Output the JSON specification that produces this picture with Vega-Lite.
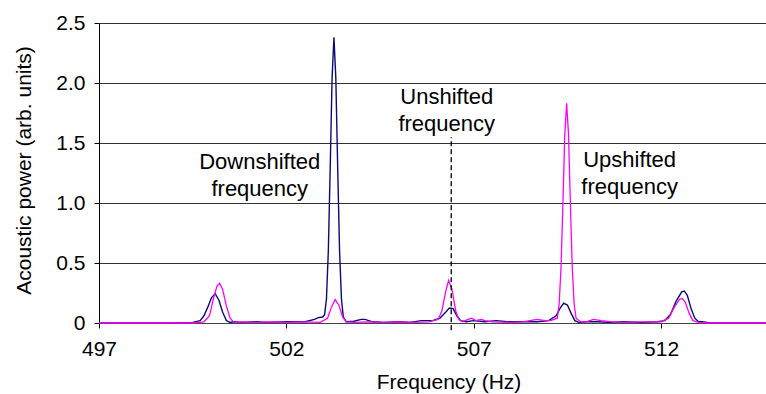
{
  "$schema": "https://vega.github.io/schema/vega-lite/v6.json",
  "width": 667,
  "height": 300,
  "autosize": {"type": "none"},
  "padding": {"left": 99, "top": 23, "right": 0, "bottom": 71},
  "background": "white",
  "config": {"view": {"stroke": null}, "font": "Liberation Sans"},
  "datasets": {
    "navy": [
      {"freq": 497.0, "power": 0}, {"freq": 499.0, "power": 0}, {"freq": 499.5, "power": 0.005},
      {"freq": 499.7, "power": 0.02}, {"freq": 499.8, "power": 0.06}, {"freq": 499.9, "power": 0.13},
      {"freq": 500.0, "power": 0.21}, {"freq": 500.1, "power": 0.245}, {"freq": 500.2, "power": 0.19},
      {"freq": 500.3, "power": 0.09}, {"freq": 500.4, "power": 0.02}, {"freq": 500.5, "power": 0.005},
      {"freq": 500.6, "power": 0.01}, {"freq": 500.8, "power": 0.005}, {"freq": 501.2, "power": 0.01},
      {"freq": 501.5, "power": 0.005}, {"freq": 502.0, "power": 0.01}, {"freq": 502.5, "power": 0.01},
      {"freq": 502.75, "power": 0.03}, {"freq": 502.85, "power": 0.045}, {"freq": 502.97, "power": 0.05},
      {"freq": 503.02, "power": 0.07}, {"freq": 503.07, "power": 0.2}, {"freq": 503.12, "power": 0.6},
      {"freq": 503.17, "power": 1.29}, {"freq": 503.22, "power": 2.04}, {"freq": 503.27, "power": 2.38},
      {"freq": 503.32, "power": 2.04}, {"freq": 503.37, "power": 1.29}, {"freq": 503.42, "power": 0.6},
      {"freq": 503.47, "power": 0.2}, {"freq": 503.52, "power": 0.05}, {"freq": 503.6, "power": 0.01},
      {"freq": 503.8, "power": 0.015}, {"freq": 504.0, "power": 0.03}, {"freq": 504.1, "power": 0.03},
      {"freq": 504.3, "power": 0.01}, {"freq": 504.6, "power": 0.005}, {"freq": 505.0, "power": 0.01},
      {"freq": 505.3, "power": 0.005}, {"freq": 505.6, "power": 0.02}, {"freq": 505.9, "power": 0.02},
      {"freq": 506.1, "power": 0.04}, {"freq": 506.25, "power": 0.09}, {"freq": 506.35, "power": 0.125},
      {"freq": 506.45, "power": 0.12}, {"freq": 506.55, "power": 0.06}, {"freq": 506.65, "power": 0.02},
      {"freq": 506.8, "power": 0.01}, {"freq": 507.0, "power": 0.02}, {"freq": 507.3, "power": 0.01},
      {"freq": 507.6, "power": 0.02}, {"freq": 507.9, "power": 0.01}, {"freq": 508.3, "power": 0.01},
      {"freq": 508.7, "power": 0.01}, {"freq": 509.0, "power": 0.02}, {"freq": 509.2, "power": 0.06},
      {"freq": 509.3, "power": 0.12}, {"freq": 509.4, "power": 0.165}, {"freq": 509.5, "power": 0.15},
      {"freq": 509.6, "power": 0.08}, {"freq": 509.7, "power": 0.02}, {"freq": 509.8, "power": 0.005},
      {"freq": 510.0, "power": 0.01}, {"freq": 510.3, "power": 0.01}, {"freq": 510.6, "power": 0.005},
      {"freq": 511.0, "power": 0.01}, {"freq": 511.5, "power": 0.005}, {"freq": 511.9, "power": 0.01},
      {"freq": 512.1, "power": 0.02}, {"freq": 512.25, "power": 0.07}, {"freq": 512.4, "power": 0.18},
      {"freq": 512.55, "power": 0.26}, {"freq": 512.62, "power": 0.267}, {"freq": 512.7, "power": 0.23},
      {"freq": 512.8, "power": 0.12}, {"freq": 512.9, "power": 0.04}, {"freq": 513.0, "power": 0.01},
      {"freq": 513.1, "power": 0.01}, {"freq": 513.3, "power": 0}, {"freq": 514.8, "power": 0}
    ],
    "magenta": [
      {"freq": 497.0, "power": 0}, {"freq": 499.5, "power": 0}, {"freq": 499.8, "power": 0.01},
      {"freq": 499.95, "power": 0.06}, {"freq": 500.05, "power": 0.2}, {"freq": 500.15, "power": 0.31},
      {"freq": 500.22, "power": 0.33}, {"freq": 500.3, "power": 0.28}, {"freq": 500.4, "power": 0.14},
      {"freq": 500.5, "power": 0.04}, {"freq": 500.6, "power": 0.005}, {"freq": 500.8, "power": 0.01},
      {"freq": 501.2, "power": 0.005}, {"freq": 501.6, "power": 0.01}, {"freq": 502.0, "power": 0.005},
      {"freq": 502.5, "power": 0.01}, {"freq": 502.9, "power": 0.005}, {"freq": 503.1, "power": 0.04},
      {"freq": 503.2, "power": 0.13}, {"freq": 503.3, "power": 0.195}, {"freq": 503.4, "power": 0.15},
      {"freq": 503.5, "power": 0.05}, {"freq": 503.6, "power": 0.01}, {"freq": 503.8, "power": 0.005},
      {"freq": 504.2, "power": 0.01}, {"freq": 504.6, "power": 0.005}, {"freq": 505.0, "power": 0.01},
      {"freq": 505.4, "power": 0.005}, {"freq": 505.8, "power": 0.01}, {"freq": 506.05, "power": 0.03},
      {"freq": 506.15, "power": 0.1}, {"freq": 506.25, "power": 0.26}, {"freq": 506.33, "power": 0.355},
      {"freq": 506.42, "power": 0.28}, {"freq": 506.52, "power": 0.1}, {"freq": 506.6, "power": 0.03},
      {"freq": 506.7, "power": 0.01}, {"freq": 506.85, "power": 0.03}, {"freq": 506.95, "power": 0.04},
      {"freq": 507.05, "power": 0.02}, {"freq": 507.2, "power": 0.03}, {"freq": 507.3, "power": 0.02},
      {"freq": 507.5, "power": 0.01}, {"freq": 508.0, "power": 0.005}, {"freq": 508.3, "power": 0.01},
      {"freq": 508.7, "power": 0.03}, {"freq": 508.9, "power": 0.02}, {"freq": 509.05, "power": 0.02},
      {"freq": 509.23, "power": 0.04}, {"freq": 509.28, "power": 0.16}, {"freq": 509.33, "power": 0.46},
      {"freq": 509.38, "power": 0.99}, {"freq": 509.43, "power": 1.57}, {"freq": 509.48, "power": 1.83},
      {"freq": 509.53, "power": 1.57}, {"freq": 509.58, "power": 0.99}, {"freq": 509.63, "power": 0.46},
      {"freq": 509.68, "power": 0.16}, {"freq": 509.73, "power": 0.04}, {"freq": 509.85, "power": 0.01},
      {"freq": 510.0, "power": 0.01}, {"freq": 510.2, "power": 0.03}, {"freq": 510.4, "power": 0.02},
      {"freq": 510.7, "power": 0.01}, {"freq": 511.0, "power": 0.005}, {"freq": 511.5, "power": 0.01},
      {"freq": 512.0, "power": 0.01}, {"freq": 512.2, "power": 0.04}, {"freq": 512.35, "power": 0.13},
      {"freq": 512.5, "power": 0.2}, {"freq": 512.57, "power": 0.203}, {"freq": 512.65, "power": 0.17},
      {"freq": 512.75, "power": 0.08}, {"freq": 512.85, "power": 0.02}, {"freq": 513.0, "power": 0.005},
      {"freq": 513.2, "power": 0}, {"freq": 514.8, "power": 0}
    ],
    "marker": [
      {"freq": 506.4, "power": -0.06}, {"freq": 506.4, "power": 1.548}
    ],
    "labels": [
      {"freq": 501.29, "power": 1.281, "text": "Downshifted\nfrequency"},
      {"freq": 506.28, "power": 1.8225, "text": "Unshifted\nfrequency"},
      {"freq": 511.16, "power": 1.30, "text": "Upshifted\nfrequency"}
    ]
  },
  "encoding": {
    "x": {
      "field": "freq", "type": "quantitative",
      "scale": {"domain": [497, 514.8], "nice": false, "zero": false},
      "axis": {
        "title": "Frequency (Hz)", "values": [497, 502, 507, 512], "grid": false,
        "domainColor": "#444", "tickColor": "#000", "tickSize": 5, "labelFontSize": 21,
        "labelColor": "#000", "titleFontSize": 21, "titleFontWeight": "normal", "titleColor": "#000",
        "labelPadding": 10, "labelFlush": false,
        "titleX": 349.5, "titleY": 65, "titleBaseline": "alphabetic", "titleAlign": "center"
      }
    },
    "y": {
      "field": "power", "type": "quantitative",
      "scale": {"domain": [0, 2.5], "nice": false},
      "axis": {
        "title": "Acoustic power (arb. units)", "values": [0, 0.5, 1, 1.5, 2, 2.5],
        "labelExpr": "datum.value == 0 ? '0' : format(datum.value, '.1f')",
        "grid": true, "gridColor": "#333", "gridOpacity": 1, "domainColor": "#000",
        "tickColor": "#000", "tickSize": 5, "labelFontSize": 21, "labelColor": "#000",
        "titleFontSize": 21, "titleFontWeight": "normal", "titleColor": "#000",
        "labelPadding": 9,
        "titleX": -75, "titleY": 147, "titleBaseline": "middle", "titleAlign": "center", "titleAngle": -90
      }
    }
  },
  "layer": [
    {"data": {"name": "navy"}, "mark": {"type": "line", "color": "#0a0a7a", "strokeWidth": 1.4}},
    {"data": {"name": "magenta"}, "mark": {"type": "line", "color": "#ff00ff", "strokeWidth": 1.3}},
    {"data": {"name": "marker"}, "mark": {"type": "line", "color": "#000", "strokeWidth": 1.3, "strokeDash": [5, 3]}},
    {"data": {"name": "labels"}, "mark": {"type": "text", "fontSize": 22, "lineBreak": "\n", "lineHeight": 27, "color": "#000", "align": "center", "baseline": "alphabetic"},
     "encoding": {"text": {"field": "text"}}}
  ]
}
